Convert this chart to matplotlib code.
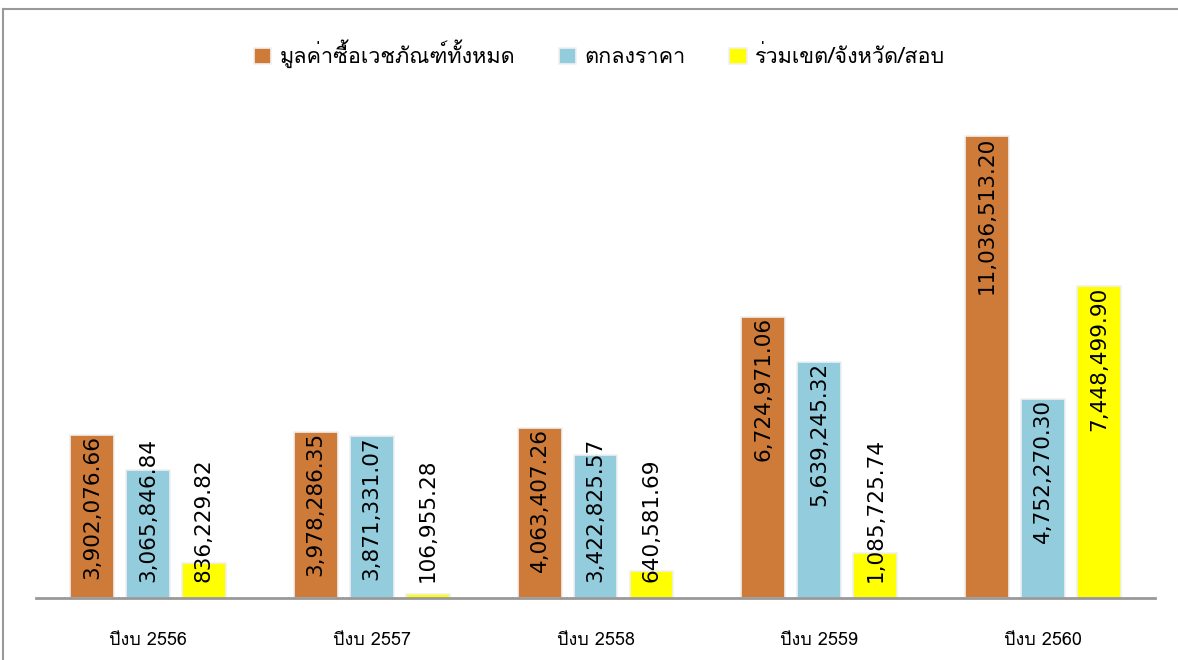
import numpy as np
import matplotlib
matplotlib.use("Agg")
import matplotlib.pyplot as plt
from matplotlib import font_manager
from matplotlib.ft2font import FT2Font
from matplotlib.lines import Line2D

years = ['ปีงบ 2556', 'ปีงบ 2557', 'ปีงบ 2558', 'ปีงบ 2559', 'ปีงบ 2560']
series_names = ['มูลค่าซื้อเวชภัณฑ์ทั้งหมด', 'ตกลงราคา', 'ร่วมเขต/จังหวัด/สอบ']
total = [3902076.66, 3978286.35, 4063407.26, 6724971.06, 11036513.20]
agreed = [3065846.84, 3871331.07, 3422825.57, 5639245.32, 4752270.30]
joint = [836229.82, 106955.28, 640581.69, 1085725.74, 7448499.90]
colors = ['#CE7B3A', '#93CDDD', '#FFFF00']


# find an installed font that has Thai glyphs
def thai_font():
    for f in font_manager.fontManager.ttflist:
        try:
            cm = FT2Font(f.fname).get_charmap()
        except Exception:
            continue
        if 0x0E21 in cm and 0x0E07 in cm:
            return f.name
    return None


tf = thai_font()
fam = [tf, 'DejaVu Sans'] if tf else ['DejaVu Sans']

fig = plt.figure(figsize=(11.78, 6.6), dpi=100)
ax = fig.add_axes([0.0306, 0.0939, 0.9499, 0.7606])

x = np.arange(len(years))
w = 0.196
offs = [-0.25, 0, 0.25]
data = [total, agreed, joint]

texts = []
for i, (vals, c, name) in enumerate(zip(data, colors, series_names)):
    bars = ax.bar(x + offs[i], vals, w, color=c, edgecolor='#f0f0f0',
                  linewidth=1.2, label=name, zorder=2)
    for b, v in zip(bars, vals):
        t = ax.text(b.get_x() + b.get_width() / 2, v, f'{v:,.2f}',
                    rotation=90, ha='center', va='top', fontsize=15.5,
                    family='DejaVu Sans', zorder=3)
        texts.append(t)

ax.set_xlim(-0.5, 4.5)
ax.set_ylim(0, 12000000)
ax.set_xticks(x)
ax.set_xticklabels(years, family=fam, fontsize=13)
ax.tick_params(axis='x', length=0, pad=24)
ax.set_yticks([])
for s in ['top', 'right', 'left']:
    ax.spines[s].set_visible(False)
ax.spines['bottom'].set_color('#999999')
ax.spines['bottom'].set_linewidth(2)

# keep labels above the baseline (like excel does)
fig.canvas.draw()
r = fig.canvas.get_renderer()
base = ax.transData.transform((0, 0))[1]
for t in texts:
    bb = t.get_window_extent(r)
    if bb.y0 < base + 16:
        shift = base + 16 - bb.y0
        xd, yd = t.get_position()
        ypix = ax.transData.transform((xd, yd))[1] + shift
        t.set_position((xd, ax.transData.inverted().transform((0, ypix))[1]))

leg = fig.legend(loc='center', bbox_to_anchor=(0.509, 0.918), ncol=3,
                 frameon=False, prop={'family': fam, 'size': 15.6},
                 handlelength=0.8, handleheight=0.8, columnspacing=2.0,
                 handletextpad=0.4)

# frame lines around the chart area
fig.add_artist(Line2D([0.0025, 1.0], [0.986, 0.986], color='#999999', lw=1.5))
fig.add_artist(Line2D([0.0025, 0.0025], [0.0, 0.986], color='#999999', lw=1.5))

fig.savefig('out.png', dpi=100)
